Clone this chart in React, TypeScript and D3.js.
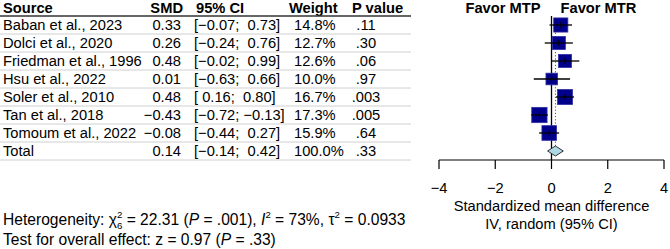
import React from "react";
import * as d3 from "d3";

const studies = [
  "Baban et al., 2023",
  "Dolci et al., 2020",
  "Friedman et al., 1996",
  "Hsu et al., 2022",
  "Soler et al., 2010",
  "Tan et al., 2018",
  "Tomoum et al., 2022",
];
const smd = [0.33, 0.26, 0.48, 0.01, 0.48, -0.43, -0.08];
const lower = [-0.07, -0.24, -0.02, -0.63, 0.16, -0.72, -0.44];
const upper = [0.73, 0.76, 0.99, 0.66, 0.8, -0.13, 0.27];
const weights = [14.8, 12.7, 12.6, 10.0, 16.7, 17.3, 15.9];
const pValues = [".11", ".30", ".06", ".97", ".003", ".005", ".64"];
const total = { label: "Total", smd: 0.14, lower: -0.14, upper: 0.42, weight: 100.0, p: ".33" };
const axisTicks = [-4, -2, 0, 2, 4];

const FONT = "'Liberation Sans', Arial, sans-serif";
const FS = 14.7;
const FS_FOOT = 15.6;

const fmt = (v: number) => (v < 0 ? "\u2212" : "") + Math.abs(v).toFixed(2);
const pad = (v: number) => (v < 0 ? "\u2212" : " ") + Math.abs(v).toFixed(2);
const ciText = (lo: number, hi: number) => `[${pad(lo)}; ${pad(hi)}]`;

export default function App() {
  const rows = [...studies, total.label];
  const y = d3.scaleBand<string>().domain(rows).range([16, 160]).padding(0);
  const cy = (r: string) => (y(r) as number) + y.bandwidth() / 2;
  const x = d3.scaleLinear().domain([-4, 4]).range([439, 664]);
  const sq = d3.scaleSqrt().domain([0, 17.3]).range([0, 15.3]);

  const colSource = 3;
  const colSMD = 181;
  const colCI = 194;
  const colW = 294;
  const colP = 366;
  const tableRight = 411;
  const axisY = 160;

  const textProps = { fontFamily: FONT, fontSize: FS, fill: "#000" } as const;
  const footProps = { fontFamily: FONT, fontSize: FS_FOOT, fill: "#000" } as const;
  const small = FS_FOOT * 0.62;

  return (
    <svg
      width={670}
      height={249}
      style={{ position: "absolute", left: 0, top: 0, background: "#fff" }}
    >
      {/* header */}
      <g {...textProps} fontWeight="bold">
        <text x={colSource} y={8} dy="0.36em">Source</text>
        <text x={colSMD + 2} y={8} dy="0.36em" textAnchor="end">SMD</text>
        <text x={colCI + 2} y={8} dy="0.36em">95% CI</text>
        <text x={colW - 5} y={8} dy="0.36em">Weight</text>
        <text x={352} y={8} dy="0.36em">P value</text>
        <text x={x(0) - 11} y={8} dy="0.36em" textAnchor="end">Favor MTP</text>
        <text x={x(0) + 9} y={8} dy="0.36em">Favor MTR</text>
      </g>

      {/* table lines */}
      {rows.map((r) => (
        <line
          key={"l" + r}
          x1={0}
          x2={tableRight}
          y1={(y(r) as number) + y.bandwidth()}
          y2={(y(r) as number) + y.bandwidth()}
          stroke="#d0d0d0"
          strokeWidth={1}
        />
      ))}
      <line x1={0} x2={tableRight} y1={16} y2={16} stroke="#333" strokeWidth={1.5} />

      {/* table rows */}
      <g {...textProps} style={{ whiteSpace: "pre" }}>
        {studies.map((s, i) => (
          <g key={s}>
            <text x={colSource} y={cy(s)} dy="0.36em">{s}</text>
            <text x={colSMD} y={cy(s)} dy="0.36em" textAnchor="end">{fmt(smd[i])}</text>
            <text x={colCI} y={cy(s)} dy="0.36em" xmlSpace="preserve">{ciText(lower[i], upper[i])}</text>
            <text x={colW} y={cy(s)} dy="0.36em">{weights[i].toFixed(1) + "%"}</text>
            <text x={colP} y={cy(s)} dy="0.36em" textAnchor="middle">{pValues[i]}</text>
          </g>
        ))}
        <text x={colSource} y={cy(total.label)} dy="0.36em">{total.label}</text>
        <text x={colSMD} y={cy(total.label)} dy="0.36em" textAnchor="end">{fmt(total.smd)}</text>
        <text x={colCI} y={cy(total.label)} dy="0.36em" xmlSpace="preserve">{ciText(total.lower, total.upper)}</text>
        <text x={colW} y={cy(total.label)} dy="0.36em">{total.weight.toFixed(1) + "%"}</text>
        <text x={colP} y={cy(total.label)} dy="0.36em" textAnchor="middle">{total.p}</text>
      </g>

      {/* reference lines */}
      <line
        x1={x(total.smd)}
        x2={x(total.smd)}
        y1={20}
        y2={146}
        stroke="#555"
        strokeWidth={1}
        strokeDasharray="1.2,2"
      />
      <line x1={x(0)} x2={x(0)} y1={16} y2={axisY} stroke="#000" strokeWidth={1.3} />

      {/* studies */}
      {studies.map((s, i) => {
        const side = sq(weights[i]);
        const c = cy(s);
        return (
          <g key={"m" + s}>
            <rect
              x={x(smd[i]) - side / 2}
              y={c - side / 2}
              width={side}
              height={side}
              fill="#00008b"
              stroke="#3030a8"
              strokeWidth={0.8}
            />
            <line x1={x(lower[i])} x2={x(upper[i])} y1={c} y2={c} stroke="#000" strokeWidth={1.3} />
            <line x1={x(smd[i])} x2={x(smd[i])} y1={c - 3} y2={c + 3} stroke="#000" strokeWidth={1} />
          </g>
        );
      })}

      {/* diamond */}
      {(() => {
        const c = cy(total.label);
        const h = 5;
        const p = d3.path();
        p.moveTo(x(total.lower), c);
        p.lineTo(x(total.smd), c - h);
        p.lineTo(x(total.upper), c);
        p.lineTo(x(total.smd), c + h);
        p.closePath();
        return <path d={p.toString()} fill="#add8e6" stroke="#333" strokeWidth={1} />;
      })()}

      {/* axis */}
      <line x1={x(-4)} x2={x(4)} y1={axisY} y2={axisY} stroke="#000" strokeWidth={1.2} />
      {axisTicks.map((t) => (
        <g key={"t" + t}>
          <line x1={x(t)} x2={x(t)} y1={axisY} y2={axisY + 9} stroke="#000" strokeWidth={1.2} />
          <text x={x(t)} y={188} dy="0.36em" textAnchor="middle" {...textProps}>
            {t < 0 ? "\u2212" + Math.abs(t) : String(t)}
          </text>
        </g>
      ))}
      <text x={x(0)} y={206} dy="0.36em" textAnchor="middle" {...textProps}>
        Standardized mean difference
      </text>
      <text x={x(0)} y={224} dy="0.36em" textAnchor="middle" {...textProps}>
        IV, random (95% CI)
      </text>

      {/* footer */}
      <text x={3} y={219} dy="0.36em" {...footProps} xmlSpace="preserve">
        <tspan>Heterogeneity: χ</tspan>
        <tspan fontSize={small} dy={4}>6</tspan>
        <tspan fontSize={small} dx={-small * 0.556} dy={-11}>2</tspan>
        <tspan dy={7}> = 22.31 (</tspan>
        <tspan fontStyle="italic">P</tspan>
        <tspan> = .001), </tspan>
        <tspan fontStyle="italic">I</tspan>
        <tspan fontSize={small} dy={-7}>2</tspan>
        <tspan dy={7}> = 73%, τ</tspan>
        <tspan fontSize={small} dy={-7}>2</tspan>
        <tspan dy={7}> = 0.0933</tspan>
      </text>
      <text x={3} y={239} dy="0.36em" {...footProps} xmlSpace="preserve">
        <tspan>Test for overall effect: z = 0.97 (</tspan>
        <tspan fontStyle="italic">P</tspan>
        <tspan> = .33)</tspan>
      </text>
    </svg>
  );
}
